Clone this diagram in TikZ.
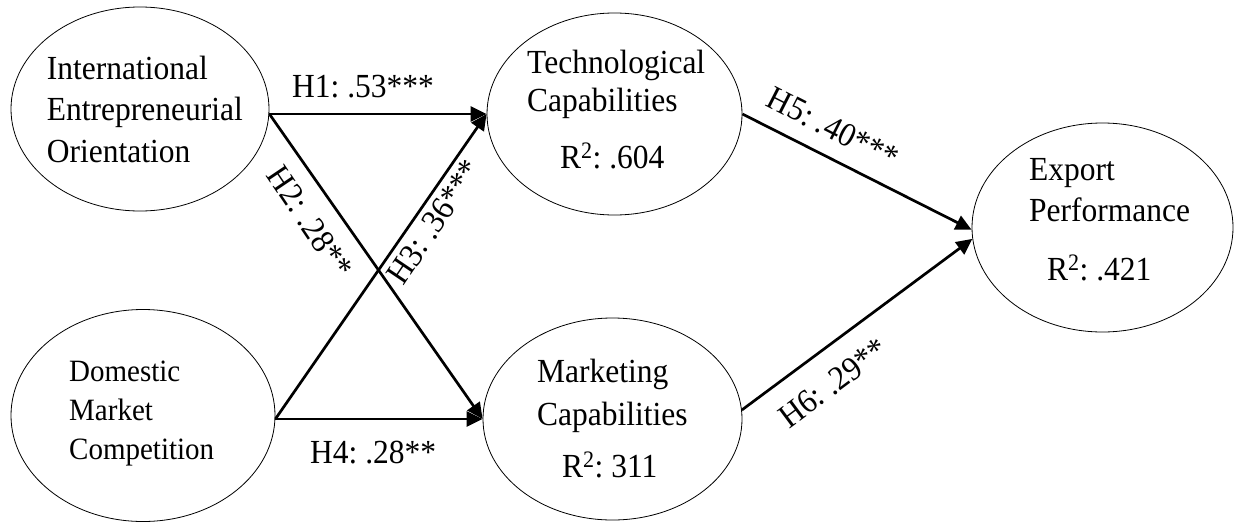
\documentclass[tikz,border=0pt]{standalone}
\usepackage{fontspec}
\usepackage{graphicx}
\setmainfont{Liberation Serif}
\usetikzlibrary{shapes.geometric,arrows.meta,calc}
\frenchspacing
\newcommand{\tallt}[1]{\scalebox{1}[1.07]{#1}}
\begin{document}
\begin{tikzpicture}[x=1pt,y=-1pt,
  cons/.style={ellipse,draw,line width=0.8pt,inner sep=0},
  lbl/.style={inner sep=0,anchor=base west,font=\fontsize{31.5}{38}\selectfont},
  lbls/.style={inner sep=0,anchor=base west,font=\fontsize{29}{35}\selectfont},
  hpath/.style={line width=2.7pt,-{Triangle[length=16pt,width=15pt]}},
  coef/.style={inner sep=0,font=\fontsize{31.5}{38}\selectfont}]
\useasboundingbox (0,0) rectangle (1234,522);
% constructs
\node[cons,minimum width=258pt,minimum height=204pt] (ieo) at (140,109) {};
\node[cons,minimum width=264pt,minimum height=212pt] (dmc) at (143,415.5) {};
\node[cons,minimum width=255pt,minimum height=202pt] (tech) at (614.5,114) {};
\node[cons,minimum width=259pt,minimum height=202pt] (mkt) at (612.5,419) {};
\node[cons,minimum width=261pt,minimum height=209pt] (exp) at (1102.5,227.5) {};
% texts
\node[lbl] (ieo1) at (46.7,79) {\tallt{International}};
\node[lbl] (ieo2) at (46.7,120.5) {\tallt{Entrepreneurial}};
\node[lbl] (ieo3) at (46.7,162) {\tallt{Orientation}};
\node[lbls] (dmc1) at (69,381) {\tallt{Domestic}};
\node[lbls] (dmc2) at (69,420) {\tallt{Market}};
\node[lbls] (dmc3) at (69,459) {\tallt{Competition}};
\node[lbl] (tech1) at (527,73) {\tallt{Technological}};
\node[lbl] (tech2) at (527,111) {\tallt{Capabilities}};
\node[lbl] (tech3) at (560,168) {\tallt{R\textsuperscript{2}: .604}};
\node[lbl] (mkt1) at (537,382) {\tallt{Marketing}};
\node[lbl] (mkt2) at (537,425) {\tallt{Capabilities}};
\node[lbl] (mkt3) at (562,477) {\tallt{R\textsuperscript{2}: 311}};
\node[lbl] (exp1) at (1029,180) {\tallt{Export}};
\node[lbl] (exp2) at (1029,221) {\tallt{Performance}};
\node[lbl] (exp3) at (1047,280) {\tallt{R\textsuperscript{2}: .421}};
% paths
\coordinate (s1) at (ieo.east |- tech.west);
\coordinate (s2) at (dmc.east |- mkt.west);
\draw[hpath] (s1) -- (tech.west);
\draw[hpath] (s1) -- (mkt.west);
\draw[hpath] (s2) -- (tech.west);
\draw[hpath] (s2) -- (mkt.west);
\draw[hpath] (tech.east) -- (exp.181);
\draw[hpath] (mkt.4) -- (exp.185);
% coefficients
\node[coef,anchor=base west] (h1) at (292,97) {\tallt{H1: .53***}};
\node[coef,anchor=base west] (h4) at (310,463) {\tallt{H4: .28**}};
\node[coef,rotate=-56] (h2) at (310,222) {\tallt{H2: .28**}};
\node[coef,rotate=56] (h3) at (434,222) {\tallt{H3: .36***}};
\node[coef,rotate=-27] (h5) at (833,128) {\tallt{H5: .40***}};
\node[coef,rotate=36.7] (h6) at (833,383) {\tallt{H6: .29**}};
\end{tikzpicture}
\end{document}
